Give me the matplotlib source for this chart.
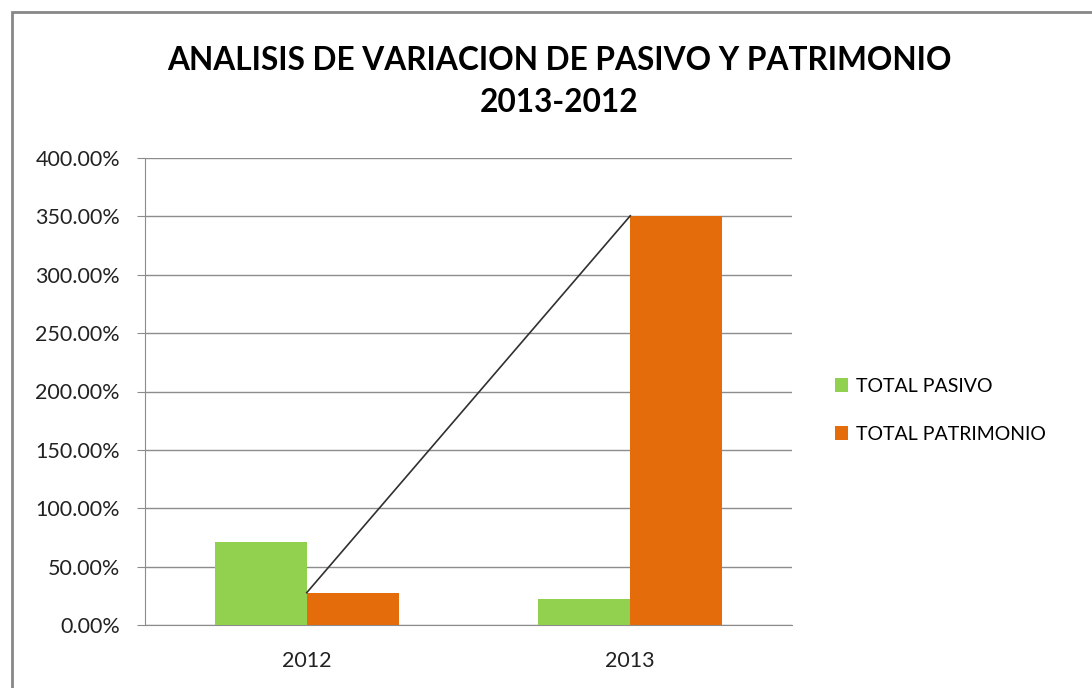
import matplotlib.pyplot as plt
from matplotlib.patches import Rectangle
from matplotlib.ticker import FuncFormatter
import numpy as np

plt.rcParams['font.family'] = ['Lato', 'DejaVu Sans']

years = ['2012', '2013']
total_pasivo = [71.4, 22.0]
total_patrimonio = [27.7, 350.5]

green = '#92d050'
orange = '#e46c0a'

fig = plt.figure(figsize=(10.92, 6.88), dpi=100)
# outer chart frame (cut off at right/bottom like the screenshot)
fig.patches.append(Rectangle((12/1092, -0.1), 1.2, (688-12)/688 + 0.1,
                             transform=fig.transFigure, fill=False,
                             edgecolor='#878787', lw=2))

ax = fig.add_axes([145/1092, 1 - 625/688, (792-145)/1092, (625-158)/688])
x = np.arange(len(years))
w = 0.285
ax.bar(x - w/2, total_pasivo, w, color=green, label='TOTAL PASIVO', zorder=3)
ax.bar(x + w/2, total_patrimonio, w, color=orange, label='TOTAL PATRIMONIO', zorder=3)
ax.plot(x, total_patrimonio, color='#303030', lw=1.2, zorder=4)

ax.set_xlim(-0.5, 1.5)
ax.set_ylim(0, 400)
ax.set_yticks(np.arange(0, 401, 50))
ax.yaxis.set_major_formatter(FuncFormatter(lambda v, p: f'{v:.2f}%'))
ax.set_xticks(x)
ax.set_xticklabels(years)
ax.grid(axis='y', color='#8c8c8c', lw=1, zorder=0)
for s in ['top', 'right']:
    ax.spines[s].set_visible(False)
for s in ['left', 'bottom']:
    ax.spines[s].set_color('#8c8c8c')
ax.tick_params(axis='y', length=6, color='#8c8c8c', labelsize=15.5, pad=12, labelcolor='#222222')
ax.tick_params(axis='x', length=0, labelsize=15.5, pad=19, labelcolor='#222222')

fig.text(0.512, 1 - 60/688, 'ANALISIS DE VARIACION DE PASIVO Y PATRIMONIO',
         ha='center', va='center', fontsize=22.8, fontweight='bold')
fig.text(0.512, 1 - 102/688, '2013-2012',
         ha='center', va='center', fontsize=22.8, fontweight='bold')

fig.legend(loc='upper left', bbox_to_anchor=(817/1092, 1 - 360/688),
           frameon=False, fontsize=14, handlelength=0.7, handleheight=0.7,
           handletextpad=0.4, labelspacing=1.6)

fig.savefig('out.png', dpi=100)
